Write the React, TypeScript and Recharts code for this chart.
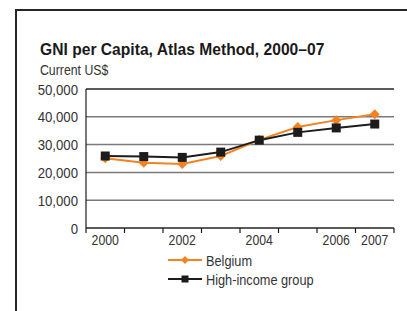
import { LineChart, Line, XAxis, YAxis, CartesianGrid, ReferenceLine, Legend } from "recharts";

const years = ["2000", "2001", "2002", "2003", "2004", "2005", "2006", "2007"];
const belgium = [25100, 23500, 23000, 25900, 31700, 36300, 38800, 40900];
const highIncome = [25900, 25700, 25400, 27300, 31600, 34400, 36000, 37400];
const yTicks = [0, 10000, 20000, 30000, 40000, 50000];
const shownYears = ["2000", "2002", "2004", "2006", "2007"];

const data = years.map((year, i) => ({ year, belgium: belgium[i], highIncome: highIncome[i] }));

// no narrow font installed, so squeeze Liberation Sans horizontally
const FONT = '"Liberation Sans", Arial, sans-serif';
const ORANGE = "#f58220";
const DARK = "#1c1c1c";
const TEXT = "#333";

const W = 407;
const H = 311;
const PLOT_LEFT = 86;
const PLOT_RIGHT = 394;
const PLOT_TOP = 89;
const PLOT_BOTTOM = 228;
const HALF_BAND = (PLOT_RIGHT - PLOT_LEFT) / years.length / 2;

function NarrowText({ x, y, size = 15, squeeze = 0.82, anchor = "start", bold = false, color = TEXT, children }: any) {
  return (
    <text
      transform={`translate(${x},${y}) scale(${squeeze},1)`}
      textAnchor={anchor}
      fontSize={size}
      fontWeight={bold ? "bold" : "normal"}
      fontFamily={FONT}
      fill={color}
    >
      {children}
    </text>
  );
}

function Diamond({ cx, cy, r = 5, color = ORANGE }: any) {
  if (cx == null || cy == null) return null;
  return <polygon points={`${cx},${cy - r} ${cx + r},${cy} ${cx},${cy + r} ${cx - r},${cy}`} fill={color} />;
}

function Square({ cx, cy, s = 4.5, color = DARK }: any) {
  if (cx == null || cy == null) return null;
  return <rect x={cx - s} y={cy - s} width={s * 2} height={s * 2} fill={color} />;
}

function YearTick({ x, y, payload, index }: any) {
  const last = index === years.length - 1;
  return (
    <g>
      <line x1={x - HALF_BAND} x2={x - HALF_BAND} y1={y} y2={y + 5} stroke={DARK} strokeWidth={1.2} />
      {last && <line x1={x + HALF_BAND} x2={x + HALF_BAND} y1={y} y2={y + 5} stroke={DARK} strokeWidth={1.2} />}
      {shownYears.includes(payload.value) && (
        <NarrowText x={x} y={y + 17} anchor="middle">
          {payload.value}
        </NarrowText>
      )}
    </g>
  );
}

function ValueTick({ x, y, payload }: any) {
  return (
    <NarrowText x={x} y={y + 5.5} anchor="end" squeeze={0.88}>
      {payload.value.toLocaleString("en-US")}
    </NarrowText>
  );
}

function LegendContent({ payload }: any) {
  return (
    <svg width={170} height={40} style={{ display: "block" }}>
      {(payload || []).map((p: any, i: number) => {
        const cy = 9 + i * 19;
        const isBel = p.dataKey === "belgium";
        return (
          <g key={p.dataKey}>
            <line x1={2} x2={36} y1={cy} y2={cy} stroke={p.color} strokeWidth={2} />
            {isBel ? <Diamond cx={19} cy={cy} r={4} color={p.color} /> : <Square cx={19} cy={cy} s={3.5} color={p.color} />}
            <NarrowText x={40} y={cy + 5.5} squeeze={0.85}>
              {p.value}
            </NarrowText>
          </g>
        );
      })}
    </svg>
  );
}

export default function App() {
  return (
    <div style={{ position: "absolute", left: 0, top: 0, width: W, height: H, background: "#fff", overflow: "hidden" }}>
      <div
        style={{
          position: "absolute",
          left: 15,
          top: 9,
          width: 420,
          height: 320,
          borderLeft: "2px solid #262626",
          borderTop: "2px solid #262626",
        }}
      />
      <svg width={W} height={80} style={{ position: "absolute", left: 0, top: 0 }}>
        <NarrowText x={40} y={55} size={17} squeeze={0.92} bold color="#1a1a1a">
          GNI per Capita, Atlas Method, 2000–07
        </NarrowText>
        <NarrowText x={40} y={75}>
          Current US$
        </NarrowText>
      </svg>
      <div style={{ position: "absolute", left: 0, top: 0 }}>
        <LineChart
          width={W}
          height={H}
          data={data}
          margin={{ top: PLOT_TOP, right: W - PLOT_RIGHT, bottom: H - PLOT_BOTTOM - 30, left: 0 }}
        >
          <CartesianGrid vertical={false} stroke="#7a7a7a" strokeWidth={1.5} />
          <XAxis
            dataKey="year"
            interval={0}
            padding={{ left: HALF_BAND, right: HALF_BAND }}
            height={30}
            tickSize={0}
            tickMargin={0}
            tickLine={false}
            axisLine={{ stroke: DARK, strokeWidth: 1.2 }}
            tick={<YearTick />}
          />
          <YAxis
            domain={[0, 50000]}
            ticks={yTicks}
            width={PLOT_LEFT}
            tickSize={0}
            tickMargin={8}
            tickLine={false}
            axisLine={{ stroke: DARK, strokeWidth: 1.2 }}
            tick={<ValueTick />}
          />
          <YAxis
            yAxisId="r"
            orientation="right"
            domain={[0, 50000]}
            width={0}
            tick={false}
            tickLine={false}
            axisLine={{ stroke: DARK, strokeWidth: 1.2 }}
          />
          <ReferenceLine y={50000} stroke={DARK} strokeWidth={1.2} />
          <Legend
            layout="vertical"
            align="center"
            verticalAlign="middle"
            wrapperStyle={{ position: "absolute", left: 166, top: 251, width: 170 }}
            content={<LegendContent />}
          />
          <Line
            dataKey="belgium"
            name="Belgium"
            stroke={ORANGE}
            strokeWidth={2}
            dot={<Diamond r={5} color={ORANGE} />}
            activeDot={false}
            isAnimationActive={false}
          />
          <Line
            dataKey="highIncome"
            name="High-income group"
            stroke={DARK}
            strokeWidth={2}
            dot={<Square s={4.5} color={DARK} />}
            activeDot={false}
            isAnimationActive={false}
          />
        </LineChart>
      </div>
    </div>
  );
}
